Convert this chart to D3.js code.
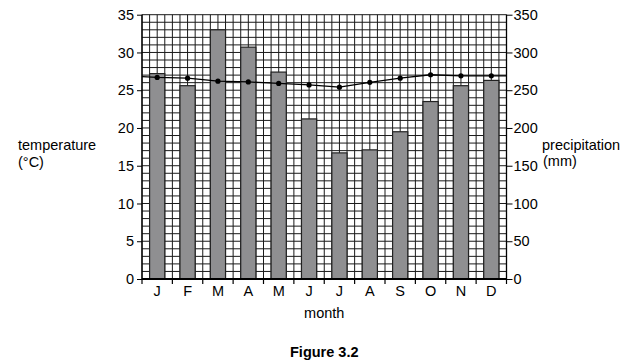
<!DOCTYPE html>
<html>
<head>
<title>Figure 3.2</title>
<script src="https://d3js.org/d3.v7.min.js" charset="utf-8"></script>
<style>
  body { margin: 0; background: white; font-family: "Liberation Sans", Arial, sans-serif; }
  .axis text { font-family: "Liberation Sans", Arial, sans-serif; font-size: 14.5px; fill: #000; }
  .axis path { display: none; }
  .axis line { stroke: #000; stroke-width: 1; }
</style>
</head>
<body>
<script>
// data
var months = ["J", "F", "M", "A", "M", "J", "J", "A", "S", "O", "N", "D"];
var precipitation = [272, 256, 330, 307, 274, 212, 167, 171, 195, 235, 256, 263];   // mm, bars
var temperature = [26.7, 26.6, 26.2, 26.1, 25.9, 25.7, 25.4, 26.05, 26.6, 27.05, 26.9, 26.9]; // degC, line
var lineEnds = [26.8, 26.9];   // where the line meets the left and right axes
var tempTicks = [0, 5, 10, 15, 20, 25, 30, 35];
var precipTicks = [0, 50, 100, 150, 200, 250, 300, 350];

var width = 635, height = 364;
var plotLeft = 142, plotRight = 506.5, plotTop = 14.7, plotBottom = 279;

var svg = d3.select("body").append("svg")
  .attr("width", width)
  .attr("height", height);

var idx = d3.range(months.length);

var x = d3.scaleBand()
  .domain(idx)
  .range([plotLeft, plotRight])
  .paddingInner(0.5)
  .paddingOuter(0.25);

// quarter-month grid positions
var xq = d3.scaleLinear().domain([0, months.length * 4]).range([plotLeft, plotRight]);

var yT = d3.scaleLinear().domain([0, 35]).range([plotBottom, plotTop]);
var yP = d3.scaleLinear().domain([0, 350]).range([plotBottom, plotTop]);

// grid
var grid = svg.append("g").attr("stroke", "#1a1a1a").attr("stroke-width", 1);
grid.selectAll("line.v")
  .data(d3.range(0, months.length * 4 + 1))
  .enter().append("line")
  .attr("class", "v")
  .attr("x1", function(d) { return xq(d); })
  .attr("x2", function(d) { return xq(d); })
  .attr("y1", plotTop)
  .attr("y2", plotBottom);
grid.selectAll("line.h")
  .data(d3.range(0, 36))
  .enter().append("line")
  .attr("class", "h")
  .attr("y1", function(d) { return yT(d); })
  .attr("y2", function(d) { return yT(d); })
  .attr("x1", plotLeft)
  .attr("x2", plotRight);

// bars
svg.append("g").selectAll("rect")
  .data(precipitation)
  .enter().append("rect")
  .attr("x", function(d, i) { return x(i); })
  .attr("width", x.bandwidth())
  .attr("y", function(d) { return yP(d); })
  .attr("height", function(d) { return plotBottom - yP(d); })
  .attr("fill", "#8f8f91")
  .attr("stroke", "#222")
  .attr("stroke-width", 1.2);

// temperature line
var pts = [[plotLeft, lineEnds[0]]]
  .concat(temperature.map(function(d, i) { return [x(i) + x.bandwidth() / 2, d]; }))
  .concat([[plotRight, lineEnds[1]]]);

svg.append("path")
  .datum(pts)
  .attr("fill", "none")
  .attr("stroke", "#000")
  .attr("stroke-width", 1.3)
  .attr("d", d3.line().x(function(d) { return d[0]; }).y(function(d) { return yT(d[1]); }));

svg.append("g").selectAll("circle")
  .data(temperature)
  .enter().append("circle")
  .attr("cx", function(d, i) { return x(i) + x.bandwidth() / 2; })
  .attr("cy", function(d) { return yT(d); })
  .attr("r", 2.6)
  .attr("fill", "#000");

// axes
svg.append("g")
  .attr("class", "axis")
  .attr("transform", "translate(" + plotLeft + ",0)")
  .call(d3.axisLeft(yT).tickValues(tempTicks).tickSize(5).tickPadding(3));

svg.append("g")
  .attr("class", "axis")
  .attr("transform", "translate(" + plotRight + ",0)")
  .call(d3.axisRight(yP).tickValues(precipTicks).tickSize(6).tickPadding(1));

// axis lines
svg.append("line")
  .attr("x1", plotLeft).attr("x2", plotLeft).attr("y1", plotTop).attr("y2", plotBottom)
  .attr("stroke", "#000").attr("stroke-width", 1.3);
svg.append("line")
  .attr("x1", plotRight).attr("x2", plotRight).attr("y1", plotTop).attr("y2", plotBottom)
  .attr("stroke", "#000").attr("stroke-width", 1.3);
svg.append("line")
  .attr("x1", plotLeft).attr("x2", plotRight).attr("y1", plotBottom).attr("y2", plotBottom)
  .attr("stroke", "#000").attr("stroke-width", 2);

// month ticks at boundaries and labels at centres
svg.append("g").selectAll("line")
  .data(d3.range(0, months.length + 1))
  .enter().append("line")
  .attr("x1", function(d) { return xq(d * 4); })
  .attr("x2", function(d) { return xq(d * 4); })
  .attr("y1", plotBottom)
  .attr("y2", plotBottom + 5)
  .attr("stroke", "#000")
  .attr("stroke-width", 1.2);

svg.append("g").selectAll("text")
  .data(months)
  .enter().append("text")
  .attr("x", function(d, i) { return x(i) + x.bandwidth() / 2; })
  .attr("y", 296)
  .attr("text-anchor", "middle")
  .style("font-size", "14.5px")
  .text(function(d) { return d; });

// titles
function label(txt, px, py, anchor, weight) {
  svg.append("text")
    .attr("x", px).attr("y", py)
    .attr("text-anchor", anchor)
    .style("font-size", "14.5px")
    .style("font-weight", weight || "normal")
    .text(txt);
}
label("temperature", 18, 150, "start");
label("(°C)", 18, 167, "start");
label("precipitation", 542, 150, "start");
label("(mm)", 543, 166, "start");
label("month", (plotLeft + plotRight) / 2, 318, "middle");
label("Figure 3.2", (plotLeft + plotRight) / 2, 357, "middle", "bold");
</script>
</body>
</html>
